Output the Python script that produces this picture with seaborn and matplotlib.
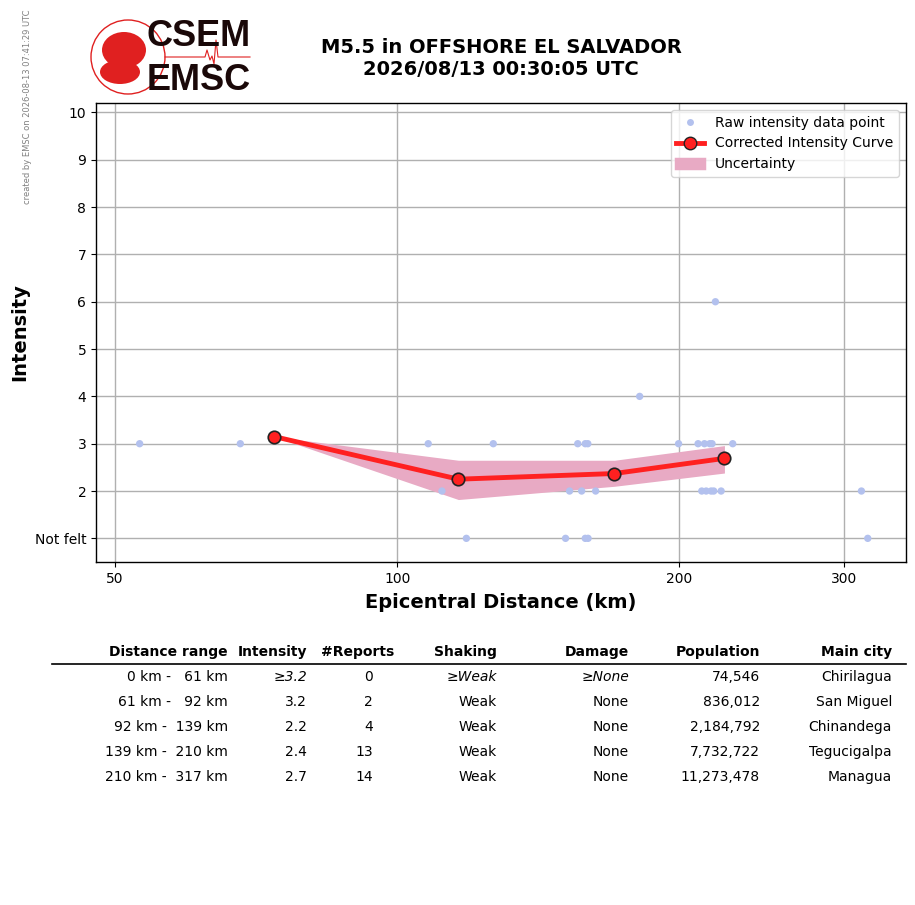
import numpy as np
import pandas as pd
import matplotlib
matplotlib.use("Agg")
import matplotlib.pyplot as plt
import seaborn as sns
from matplotlib.lines import Line2D
from matplotlib.patches import Patch, Circle, Ellipse

# ---------------- data ----------------
raw_dist = [53.1, 68.0, 107.9, 111.6, 118.5, 126.6, 151.2, 152.7, 155.8, 157.3,
            158.7, 158.7, 159.7, 159.8, 162.8, 181.4, 199.6, 209.4, 211.3, 212.7,
            213.6, 215.5, 216.2, 216.7, 217.6, 218.5, 221.6, 228.0, 312.8, 317.7]
raw_int = [3, 3, 3, 2, 1, 3, 1, 2, 3, 2,
           3, 1, 3, 1, 2, 4, 3, 3, 2, 3,
           2, 3, 2, 3, 2, 6, 2, 3, 2, 1]

curve_dist = [73.9, 116.2, 170.5, 223.4]
curve_int = [3.15, 2.25, 2.37, 2.69]
curve_lower = [3.15, 1.82, 2.10, 2.38]
curve_upper = [3.15, 2.65, 2.65, 2.96]

x_ticks = [50, 100, 200, 300]
y_ticks = [1, 2, 3, 4, 5, 6, 7, 8, 9, 10]
y_tick_labels = ["Not felt", "2", "3", "4", "5", "6", "7", "8", "9", "10"]

tbl_headers = ["Distance range", "Intensity", "#Reports", "Shaking", "Damage", "Population", "Main city"]
bin_lo = [0, 61, 92, 139, 210]
bin_hi = [61, 92, 139, 210, 317]
tbl_intensity = ["≥3.2", "3.2", "2.2", "2.4", "2.7"]
tbl_reports = [0, 2, 4, 13, 14]
tbl_shaking = ["≥Weak", "Weak", "Weak", "Weak", "Weak"]
tbl_damage = ["≥None", "None", "None", "None", "None"]
tbl_population = ["74,546", "836,012", "2,184,792", "7,732,722", "11,273,478"]
tbl_city = ["Chirilagua", "San Miguel", "Chinandega", "Tegucigalpa", "Managua"]

# ---------------- figure ----------------
W, H = 915, 905
fig = plt.figure(figsize=(W / 100, H / 100), dpi=100)
plt.rcParams['font.family'] = ['DejaVu Sans']

def fx(x):
    return x / W

def fy(y):
    return 1 - y / H

ax = fig.add_axes([fx(96), fy(562), fx(906) - fx(96), fy(103) - fy(562)])

raw_df = pd.DataFrame({"dist": raw_dist, "intensity": raw_int})
curve_df = pd.DataFrame({"dist": curve_dist, "intensity": curve_int})

pt_color = "#b3c1ee"
band_color = "#e8aac4"
line_color = "#ff2020"

ax.set_xscale("log")
ax.fill_between(curve_dist, curve_lower, curve_upper, color=band_color, lw=0, zorder=2)
sns.scatterplot(data=raw_df, x="dist", y="intensity", ax=ax, color=pt_color,
                s=28, edgecolor="none", zorder=3, legend=False)
sns.lineplot(data=curve_df, x="dist", y="intensity", ax=ax, color=line_color,
             lw=3.5, marker="o", markersize=9, markerfacecolor=line_color,
             markeredgecolor="#222222", markeredgewidth=1.2, zorder=4, legend=False)

ax.set_xlim(47.7, 349)
ax.set_ylim(0.5, 10.2)
ax.set_xticks(x_ticks)
ax.set_xticklabels([str(t) for t in x_ticks], fontsize=10)
ax.xaxis.set_minor_locator(matplotlib.ticker.NullLocator())
ax.set_yticks(y_ticks)
ax.set_yticklabels(y_tick_labels, fontsize=10)
ax.grid(True, color="#b0b0b0", lw=1.0, zorder=0)
ax.set_axisbelow(True)
for s in ax.spines.values():
    s.set_color("black")
    s.set_linewidth(1.0)
ax.tick_params(direction="out", length=3.5, width=0.8, colors="black")

ax.set_xlabel("Epicentral Distance (km)", fontsize=14, fontweight="bold", labelpad=5)
ax.set_ylabel("Intensity", fontsize=14, fontweight="bold", labelpad=4)
ax.set_title("M5.5 in OFFSHORE EL SALVADOR\n2026/08/13 00:30:05 UTC",
             fontsize=14, fontweight="bold", pad=20)

handles = [
    Line2D([], [], ls="none", marker="o", markersize=5, color=pt_color, markeredgecolor="none"),
    Line2D([], [], color=line_color, lw=3.5, marker="o", markersize=9,
           markerfacecolor=line_color, markeredgecolor="#222222"),
    Patch(facecolor=band_color, edgecolor=band_color, lw=2.5),
]
ax.legend(handles, ["Raw intensity data point", "Corrected Intensity Curve", "Uncertainty"],
          loc="upper right", fontsize=10, framealpha=0.8, borderaxespad=0.5)

# ---------------- watermark ----------------
fig.text(fx(28), fy(107), "created by EMSC on 2026-08-13 07:41:29 UTC", rotation=90,
         fontsize=6, color="gray", ha="center", va="center")

# ---------------- logo ----------------
lax = fig.add_axes([fx(85), fy(100), fx(260) - fx(85), fy(15) - fy(100)])
lax.set_xlim(85, 260)
lax.set_ylim(100, 15)
lax.set_aspect("equal")
lax.axis("off")
lax.add_patch(Circle((128, 57), 37, fill=False, ec="#e02020", lw=1.0))
lax.add_patch(Ellipse((124, 50), 44, 36, color="#e02020", lw=0))
lax.add_patch(Ellipse((120, 72), 40, 24, color="#e02020", lw=0))
lax.text(147, 37, "CSEM", fontsize=26, fontweight="heavy", family="Liberation Sans",
         color="#1a0808", ha="left", va="center")
lax.text(147, 81, "EMSC", fontsize=26, fontweight="heavy", family="Liberation Sans",
         color="#1a0808", ha="left", va="center")
lax.plot([165, 205, 207, 210, 212, 214, 216, 218, 220, 250],
         [57, 57, 50, 60, 56, 64, 40, 57, 57, 57], color="#e02020", lw=0.8)

# ---------------- table ----------------
col_right = [228, 307, 373, 497, 629, 760, 892]
hdr_right = [228, 307, 394, 497, 629, 760, 892]
for x, h in zip(hdr_right, tbl_headers):
    fig.text(fx(x), fy(652), h, fontsize=10, fontweight="bold", ha="right", va="center")
fig.add_artist(Line2D([fx(52), fx(906)], [fy(664), fy(664)], color="black", lw=1.2))

row_y = [677, 702, 727, 752, 777]
for i, y in enumerate(row_y):
    dist_txt = "%d km - %4d km" % (bin_lo[i], bin_hi[i])
    italic = "italic" if i == 0 else "normal"
    cells = [(dist_txt, "normal"), (tbl_intensity[i], italic), (str(tbl_reports[i]), "normal"),
             (tbl_shaking[i], italic), (tbl_damage[i], italic), (tbl_population[i], "normal"),
             (tbl_city[i], "normal")]
    for x, (txt, st) in zip(col_right, cells):
        fig.text(fx(x), fy(y), txt, fontsize=10, style=st, ha="right", va="center")

fig.savefig("out.png", dpi=100)
